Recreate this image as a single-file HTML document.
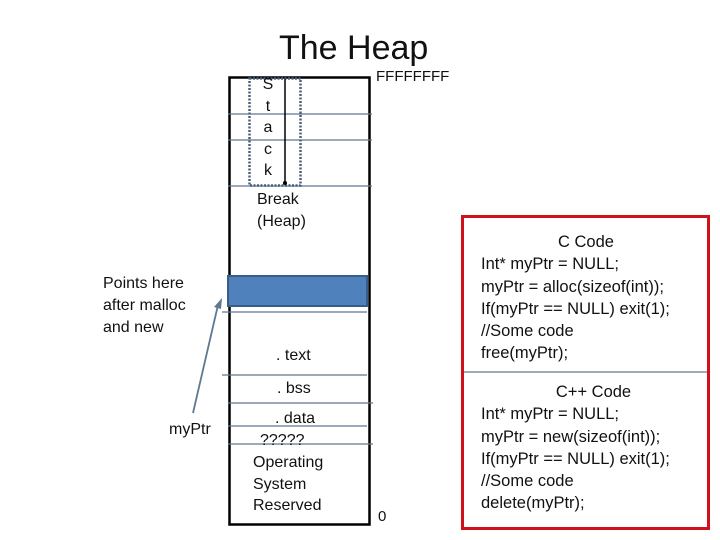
<!DOCTYPE html>
<html><head><style>
body{margin:0;width:720px;height:540px;background:#fff;position:relative;overflow:hidden;font-family:"Liberation Sans",sans-serif;color:#111}
.t{position:absolute;font-size:16px;line-height:22px;white-space:nowrap}
</style></head><body>
<svg width="720" height="540" style="position:absolute;left:0;top:0">
<rect x="229.5" y="77.5" width="140" height="447" fill="none" stroke="#000" stroke-width="2.5"/>
<g stroke="#5f7891" stroke-width="1.3">
<line x1="228" y1="114" x2="372" y2="114"/>
<line x1="228" y1="140" x2="372" y2="140"/>
<line x1="228" y1="186" x2="372" y2="186"/>
<line x1="222" y1="312" x2="367" y2="312"/>
<line x1="222" y1="375" x2="367" y2="375"/>
<line x1="228" y1="403" x2="373" y2="403"/>
<line x1="228" y1="426" x2="367" y2="426"/>
<line x1="228" y1="444" x2="373" y2="444"/>
<line x1="462" y1="372" x2="709" y2="372"/>
</g>
<rect x="228" y="276" width="139" height="30" fill="#4f81bd" stroke="#385d8a" stroke-width="2"/>
<rect x="249.5" y="78.5" width="51" height="107" fill="none" stroke="#4a6078" stroke-width="2.5" stroke-dasharray="2,1.5"/>
<line x1="285" y1="79" x2="285" y2="183" stroke="#000" stroke-width="1.5"/>
<circle cx="285" cy="183" r="2" fill="#000"/>
<line x1="193" y1="413" x2="218" y2="305" stroke="#5f7891" stroke-width="1.8"/>
<polygon points="222,298 214,307 221,309" fill="#5f7891"/>
<rect x="462.5" y="216.5" width="246" height="312" fill="none" stroke="#d0101a" stroke-width="3"/>
</svg>
<div class="t" style="left:279px;top:28px;font-size:34px;line-height:40px">The Heap</div>
<div class="t" style="left:376px;top:66px;font-size:15px">FFFFFFFF</div>
<div class="t" style="left:262px;top:74px;text-align:center;width:12px;line-height:21.5px">S<br>t<br>a<br>c<br>k</div>
<div class="t" style="left:257px;top:189px">Break<br>(Heap)</div>
<div class="t" style="left:103px;top:273px">Points here<br>after malloc<br>and new</div>
<div class="t" style="left:276px;top:345px">. text</div>
<div class="t" style="left:277px;top:378px">. bss</div>
<div class="t" style="left:275px;top:408px">. data</div>
<div class="t" style="left:260px;top:430px">?????</div>
<div class="t" style="left:253px;top:452px;line-height:21.5px">Operating<br>System<br>Reserved</div>
<div class="t" style="left:169px;top:419px">myPtr</div>
<div class="t" style="left:378px;top:506px;font-size:15px">0</div>
<div class="t" style="left:481px;top:231px;line-height:22.3px;font-size:16.5px"><div style="text-align:center;width:210px">C Code</div>Int* myPtr = NULL;<br>myPtr = alloc(sizeof(int));<br>If(myPtr == NULL) exit(1);<br>//Some code<br>free(myPtr);</div>
<div class="t" style="left:481px;top:381px;line-height:22.3px;font-size:16.5px"><div style="text-align:center;width:225px">C++ Code</div>Int* myPtr = NULL;<br>myPtr = new(sizeof(int));<br>If(myPtr == NULL) exit(1);<br>//Some code<br>delete(myPtr);</div>
</body></html>
